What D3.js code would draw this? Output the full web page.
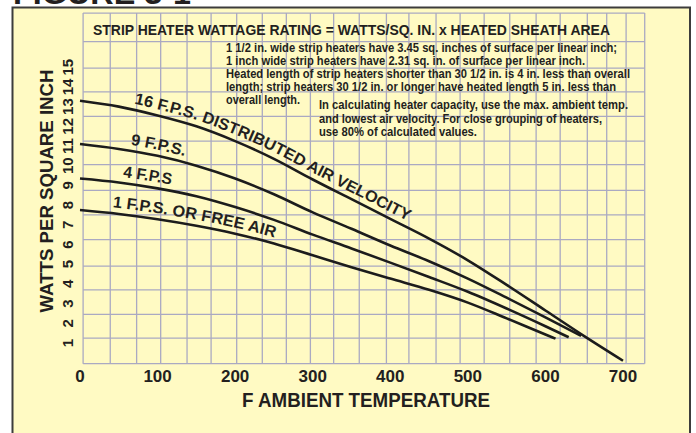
<!DOCTYPE html>
<html>
<head>
  <meta charset="utf-8">
  <title>Strip heater wattage rating</title>
  <style>
    body { margin: 0; background: #ffffff; }
    text { font-family: "Liberation Sans", Arial, sans-serif; font-weight: bold; fill: #231f20; }
    .narrow { font-family: "Liberation Sans Narrow", "Arial Narrow", "Liberation Sans", sans-serif; }
  </style>
</head>
<body>
  <svg width="696" height="433"></svg>
  <script src="https://d3js.org/d3.v7.min.js"></script>
  <script>
  // values (deg F -> watts per sq. in.)
  var speeds = ["16 F.P.S. DISTRIBUTED AIR VELOCITY", "9 F.P.S.", "4 F.P.S", "1 F.P.S. OR FREE AIR"];

  var temps16 = [0, 50, 100, 150, 200, 250, 300, 350, 400, 450, 500, 550, 600, 650, 700];
  var watts16 = [13.3, 13.0, 12.55, 12.0, 11.25, 10.35, 9.3, 8.3, 7.3, 6.3, 5.2, 3.95, 2.65, 1.35, 0.1];

  var temps9 = [0, 50, 100, 150, 200, 250, 300, 350, 400, 450, 500, 550, 600, 646];
  var watts9 = [11.1, 10.85, 10.5, 10.0, 9.35, 8.55, 7.63, 6.8, 5.95, 5.15, 4.27, 3.3, 2.3, 1.36];

  var temps4 = [0, 50, 100, 150, 200, 250, 300, 350, 400, 450, 500, 550, 600, 630];
  var watts4 = [9.35, 9.15, 8.85, 8.45, 7.9, 7.25, 6.5, 5.8, 5.08, 4.35, 3.6, 2.75, 1.85, 1.29];

  var temps1 = [0, 50, 100, 150, 200, 250, 300, 350, 400, 450, 500, 550, 600, 613];
  var watts1 = [7.75, 7.55, 7.28, 6.95, 6.55, 6.05, 5.45, 4.85, 4.27, 3.7, 3.05, 2.25, 1.43, 1.22];

  // where each curve label sits along its curve (deg F)
  var labelFrom = [68, 64, 54, 41];
  var labelTo = [419, 133, 116, 249];

  var xTicks = [0, 100, 200, 300, 400, 500, 600, 700];
  var yTicks = [1, 2, 3, 4, 5, 6, 7, 8, 9, 10, 11, 12, 13, 14, 15];

  // graph paper lines of the printed chart (not on the tick values)
  var gridTemps = [4, 39, 73, 104, 138, 169, 202, 235, 266, 297, 327, 360, 395, 424, 459, 490, 521, 554, 588, 619, 654, 679, 704, 728];
  var gridWatts = [-0.05, 1.25, 2.45, 3.7, 4.9, 6.25, 7.5, 8.75, 10.05, 11.25, 12.5, 13.75, 14.95, 16.3, 17.75];

  var notes = [
    "1 1/2 in. wide strip heaters have 3.45 sq. inches of surface per linear inch;",
    "1 inch wide strip heaters have 2.31 sq. in. of surface per linear inch.",
    "Heated length of strip heaters shorter than 30 1/2 in. is 4 in. less than overall",
    "length; strip heaters 30 1/2 in. or longer have heated length 5 in. less than",
    "overall length."
  ];
  var notes2 = [
    "In calculating heater capacity, use the max. ambient temp.",
    "and lowest air velocity. For close grouping of heaters,",
    "use 80% of calculated values."
  ];

  var svg = d3.select("svg");

  var x = d3.scaleLinear().domain([0, 700]).range([80, 623]);
  var y = d3.scaleLinear().domain([0, 15]).range([362.7, 67.2]);

  // figure caption, cut off by the top edge
  svg.append("text")
    .attr("x", 13).attr("y", 4)
    .attr("textLength", 178).attr("lengthAdjust", "spacingAndGlyphs")
    .style("font-size", "32px")
    .text("FIGURE 3-1");

  // yellow panel
  svg.append("rect")
    .attr("x", 12.5).attr("y", 7.5)
    .attr("width", 677.5).attr("height", 440)
    .attr("fill", "#fffac3")
    .attr("stroke", "#3c3c3c")
    .attr("stroke-width", 2);

  // grid
  var gx0 = x(d3.min(gridTemps)), gx1 = x(d3.max(gridTemps));
  var gy0 = y(d3.min(gridWatts)), gy1 = y(d3.max(gridWatts));

  svg.append("g").selectAll("line")
    .data(gridTemps)
    .enter()
    .append("line")
    .attr("x1", function(d) { return x(d); })
    .attr("x2", function(d) { return x(d); })
    .attr("y1", gy0).attr("y2", gy1)
    .attr("stroke", "#aaa9c2")
    .attr("stroke-width", 1.3);

  svg.append("g").selectAll("line")
    .data(gridWatts)
    .enter()
    .append("line")
    .attr("x1", gx0).attr("x2", gx1)
    .attr("y1", function(d) { return y(d); })
    .attr("y2", function(d) { return y(d); })
    .attr("stroke", "#aaa9c2")
    .attr("stroke-width", 1.3);

  // tick labels
  svg.append("g").selectAll("text")
    .data(xTicks)
    .enter()
    .append("text")
    .attr("x", function(d) { return x(d); })
    .attr("y", 382)
    .attr("text-anchor", "middle")
    .style("font-size", "17px")
    .text(function(d) { return d; });

  svg.append("g").selectAll("text")
    .data(yTicks)
    .enter()
    .append("text")
    .attr("class", "narrow")
    .attr("transform", function(d) { return "translate(68," + y(d) + ") rotate(-90)"; })
    .attr("text-anchor", "middle")
    .attr("dy", "0.36em")
    .style("font-size", "15px")
    .text(function(d) { return d; });

  // axis titles
  svg.append("text")
    .attr("x", 366).attr("y", 407)
    .attr("text-anchor", "middle")
    .attr("textLength", 248).attr("lengthAdjust", "spacingAndGlyphs")
    .style("font-size", "20px")
    .text("F AMBIENT TEMPERATURE");

  svg.append("text")
    .attr("transform", "translate(53,191) rotate(-90)")
    .attr("text-anchor", "middle")
    .attr("textLength", 243).attr("lengthAdjust", "spacingAndGlyphs")
    .style("font-size", "19px")
    .text("WATTS PER SQUARE INCH");

  // header and notes
  svg.append("text")
    .attr("x", 93).attr("y", 35)
    .attr("textLength", 517).attr("lengthAdjust", "spacingAndGlyphs")
    .style("font-size", "14px")
    .text("STRIP HEATER WATTAGE RATING = WATTS/SQ. IN. x HEATED SHEATH AREA");

  var noteWidths = [391, 359, 404, 390, 74];
  var noteY = [52, 64.5, 78, 91, 103.5];
  svg.append("g").selectAll("text")
    .data(notes)
    .enter()
    .append("text")
    .attr("class", "narrow")
    .attr("x", 226)
    .attr("y", function(d, i) { return noteY[i]; })
    .attr("textLength", function(d, i) { return noteWidths[i]; })
    .attr("lengthAdjust", "spacingAndGlyphs")
    .style("font-size", "12.5px")
    .text(function(d) { return d; });

  var note2Widths = [309, 283, 158];
  svg.append("g").selectAll("text")
    .data(notes2)
    .enter()
    .append("text")
    .attr("class", "narrow")
    .attr("x", 319)
    .attr("y", function(d, i) { return 109 + i * 13.5; })
    .attr("textLength", function(d, i) { return note2Widths[i]; })
    .attr("lengthAdjust", "spacingAndGlyphs")
    .style("font-size", "12.5px")
    .text(function(d) { return d; });

  // curves
  var curves = [
    d3.zip(temps16, watts16),
    d3.zip(temps9, watts9),
    d3.zip(temps4, watts4),
    d3.zip(temps1, watts1)
  ];

  var line = d3.line()
    .x(function(d) { return x(d[0]); })
    .y(function(d) { return y(d[1]); })
    .curve(d3.curveMonotoneX);

  var paths = svg.append("g").selectAll("path")
    .data(curves)
    .enter()
    .append("path")
    .attr("id", function(d, i) { return "curve" + i; })
    .attr("d", line)
    .attr("fill", "none")
    .attr("stroke", "#1c1c1c")
    .attr("stroke-width", 2.6);

  // arc length at which the curve reaches a given x position
  function lengthAtX(node, px) {
    var total = node.getTotalLength();
    var lo = 0, hi = total;
    for (var k = 0; k < 30; k++) {
      var mid = (lo + hi) / 2;
      if (node.getPointAtLength(mid).x < px) lo = mid; else hi = mid;
    }
    return lo;
  }

  paths.each(function(d, i) {
    var s = lengthAtX(this, x(labelFrom[i]));
    var e = lengthAtX(this, x(labelTo[i]));
    svg.append("text")
      .attr("dy", -6)
      .style("font-size", "16px")
      .append("textPath")
      .attr("href", "#curve" + i)
      .attr("startOffset", s)
      .attr("textLength", e - s)
      .attr("lengthAdjust", "spacingAndGlyphs")
      .text(speeds[i]);
  });
  </script>
</body>
</html>
